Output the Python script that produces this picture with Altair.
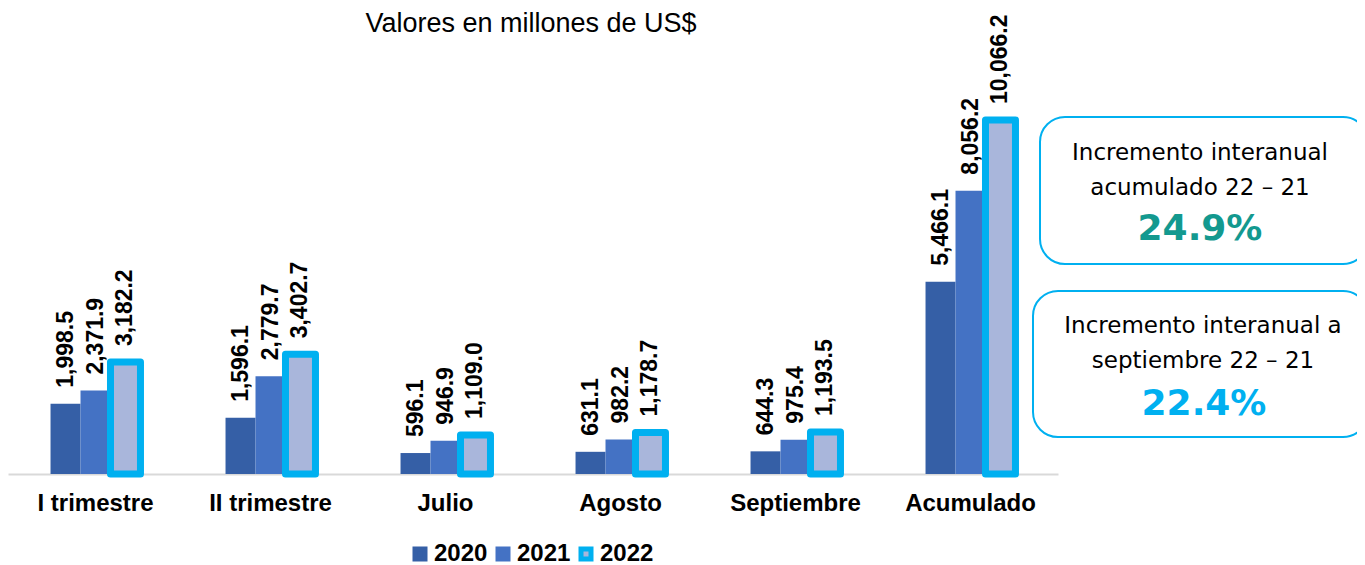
import altair as alt
import pandas as pd

categories = ["I trimestre", "II trimestre", "Julio", "Agosto", "Septiembre", "Acumulado"]
years = ["2020", "2021", "2022"]
v2020 = [1998.5, 1596.1, 596.1, 631.1, 644.3, 5466.1]
v2021 = [2371.9, 2779.7, 946.9, 982.2, 975.4, 8056.2]
v2022 = [3182.2, 3402.7, 1109.0, 1178.7, 1193.5, 10066.2]
fill_colors = ["#355FA6", "#4472C4", "#A9B6DB"]
stroke_colors = ["#355FA6", "#4472C4", "#00B0F0"]
title_text = "Valores en millones de US$"
box1_lines = ["Incremento interanual", "acumulado 22 – 21"]
box1_value = "24.9%"
box2_lines = ["Incremento interanual a", "septiembre 22 – 21"]
box2_value = "22.4%"

rows = []
for i, c in enumerate(categories):
    for yr, vals in zip(years, [v2020, v2021, v2022]):
        rows.append({"cat": c, "year": yr, "value": vals[i]})
df = pd.DataFrame(rows)

W, H = 1050, 466
FONT = "Liberation Sans"

x = alt.X(
    "cat:N", sort=categories,
    scale=alt.Scale(domain=categories, paddingInner=0.486, paddingOuter=0.243),
    axis=alt.Axis(title=None, labelAngle=0, labelFont=FONT, labelFontSize=24,
                  labelFontWeight="bold", labelColor="black", labelPadding=17,
                  ticks=False, tickSize=0, domainColor="#D9D9D9", domainWidth=2,
                  grid=False),
)
xo = alt.XOffset("year:N", scale=alt.Scale(domain=years, paddingInner=0, paddingOuter=0))
y = alt.Y("value:Q", scale=alt.Scale(domain=[0, 13250], nice=False, zero=True), axis=None)

leg = alt.Legend(title=None, orient="none", legendX=400, legendY=534, direction="horizontal",
                 symbolType="square", symbolSize=100, symbolStrokeWidth=5,
                 labelFont=FONT, labelFontSize=24, labelFontWeight="bold", labelColor="black",
                 labelOffset=2, columnPadding=0, padding=0)

bars = alt.Chart(df).mark_bar(strokeJoin="round").encode(
    x=x, xOffset=xo, y=y,
    fill=alt.Fill("year:N", scale=alt.Scale(domain=years, range=fill_colors), legend=leg),
    stroke=alt.Stroke("year:N", scale=alt.Scale(domain=years, range=stroke_colors), legend=leg),
    strokeWidth=alt.condition(alt.datum.year == "2022", alt.value(7), alt.value(0)),
)

labels = alt.Chart(df).mark_text(
    angle=270, align="left", baseline="middle", dx=16,
    font=FONT, fontSize=23, fontWeight="bold", color="black",
).encode(x=x, xOffset=xo, y=y, text=alt.Text("value:Q", format=",.1f"))

one = pd.DataFrame({"a": [0]})

title = alt.Chart(pd.DataFrame({"t": [title_text]})).mark_text(
    font=FONT, fontSize=27, align="center", baseline="alphabetic", color="black"
).encode(text="t:N", x=alt.value(523), y=alt.value(24))


def box(x1, x2, y1, y2):
    return alt.Chart(one).mark_rect(
        cornerRadius=25, fill="white", fillOpacity=0, stroke="#00B0F0", strokeWidth=2
    ).encode(x=alt.value(x1), x2=alt.value(x2), y=alt.value(y1), y2=alt.value(y2))


def line(txt, cx, cy, size=23, bold=False, color="black"):
    return alt.Chart(pd.DataFrame({"t": [txt]})).mark_text(
        font="DejaVu Sans", fontSize=size, fontWeight="bold" if bold else "normal",
        align="center", baseline="alphabetic", color=color,
    ).encode(text="t:N", x=alt.value(cx), y=alt.value(cy))


annot = [
    box(1032, 1360, 109, 256),
    line(box1_lines[0], 1192, 152),
    line(box1_lines[1], 1192, 187),
    line(box1_value, 1192, 232, size=36, bold=True, color="#13998F"),
    box(1025, 1360, 283, 429),
    line(box2_lines[0], 1195, 325),
    line(box2_lines[1], 1195, 360),
    line(box2_value, 1196, 407, size=36, bold=True, color="#00B0F0"),
]

chart = alt.layer(bars, labels, title, *annot).properties(
    width=W, height=H,
    background="white",
    autosize=alt.AutoSizeParams(type="none"),
    padding={"left": 0, "top": 0, "right": 299, "bottom": 91},
).configure_view(strokeWidth=0, stroke="transparent")

chart.save("out.html", embed_options={"renderer": "svg", "actions": False})
